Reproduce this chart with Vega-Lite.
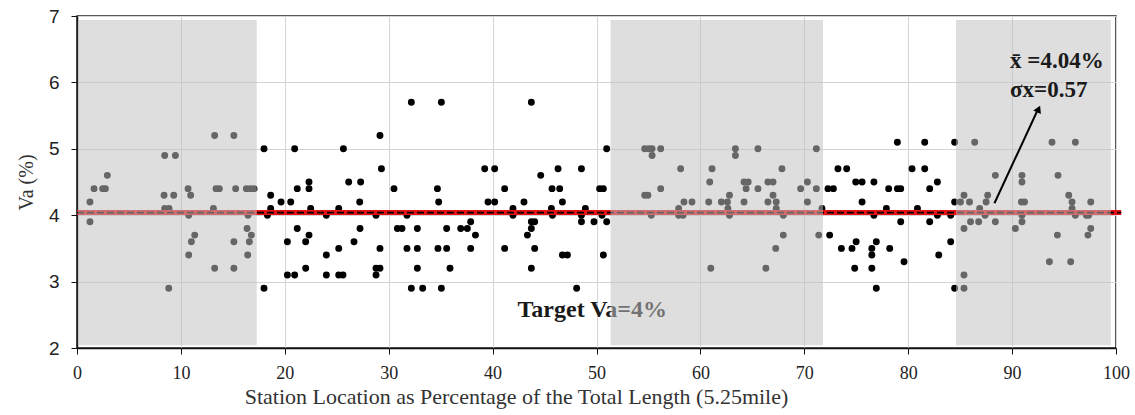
{
  "$schema": "https://vega.github.io/schema/vega-lite/v6.json",
  "width": 1039,
  "height": 332,
  "autosize": "none",
  "padding": {"left": 77, "top": 16, "right": 19, "bottom": 67},
  "background": "white",
  "config": {
    "view": {"stroke": "#222", "strokeWidth": 1.5},
    "axis": {
      "gridColor": "#d4d4d4",
      "gridWidth": 1,
      "domainColor": "#111",
      "domainWidth": 1.5,
      "tickColor": "#111",
      "tickSize": 6,
      "labelFlush": false,
      "labelOverlap": false,
      "titleFontWeight": "normal",
      "titleColor": "#333",
      "labelColor": "#222"
    }
  },
  "datasets": {
    "points": [
      {"station": 1.25, "va": 4.2}, {"station": 1.25, "va": 3.9}, {"station": 1.64, "va": 4.4}, {"station": 2.47, "va": 4.4},
      {"station": 2.73, "va": 4.4}, {"station": 2.92, "va": 4.6}, {"station": 8.38, "va": 4.3}, {"station": 8.44, "va": 4.9},
      {"station": 8.44, "va": 4.1}, {"station": 8.83, "va": 2.9}, {"station": 8.86, "va": 4.1}, {"station": 9.31, "va": 4.3},
      {"station": 9.47, "va": 4.9}, {"station": 10.69, "va": 4.4}, {"station": 10.75, "va": 4.0}, {"station": 10.75, "va": 3.4},
      {"station": 10.94, "va": 4.3}, {"station": 11.01, "va": 3.6}, {"station": 11.33, "va": 3.7}, {"station": 13.13, "va": 4.1},
      {"station": 13.25, "va": 5.2}, {"station": 13.25, "va": 3.2}, {"station": 13.38, "va": 4.4}, {"station": 13.7, "va": 4.4},
      {"station": 15.1, "va": 5.2}, {"station": 15.1, "va": 3.6}, {"station": 15.1, "va": 3.2}, {"station": 15.27, "va": 4.4},
      {"station": 16.3, "va": 4.4}, {"station": 16.37, "va": 3.8}, {"station": 16.43, "va": 3.4}, {"station": 16.46, "va": 4.0},
      {"station": 16.59, "va": 3.6}, {"station": 16.69, "va": 4.4}, {"station": 16.78, "va": 3.7}, {"station": 17.04, "va": 4.4},
      {"station": 18.0, "va": 5.0}, {"station": 18.0, "va": 2.9}, {"station": 18.33, "va": 4.0}, {"station": 18.64, "va": 4.3},
      {"station": 18.64, "va": 4.1}, {"station": 19.64, "va": 4.2}, {"station": 20.25, "va": 3.6}, {"station": 20.25, "va": 3.1},
      {"station": 20.57, "va": 4.2}, {"station": 20.95, "va": 5.0}, {"station": 20.95, "va": 3.1}, {"station": 21.2, "va": 4.4},
      {"station": 21.2, "va": 3.8}, {"station": 22.01, "va": 3.6}, {"station": 22.01, "va": 3.2}, {"station": 22.33, "va": 4.5},
      {"station": 22.33, "va": 4.4}, {"station": 22.33, "va": 3.7}, {"station": 22.49, "va": 4.1}, {"station": 24.0, "va": 4.0},
      {"station": 24.0, "va": 3.4}, {"station": 24.0, "va": 3.1}, {"station": 25.19, "va": 4.1}, {"station": 25.19, "va": 3.5},
      {"station": 25.19, "va": 3.1}, {"station": 25.6, "va": 3.1}, {"station": 25.64, "va": 5.0}, {"station": 26.15, "va": 4.5},
      {"station": 26.66, "va": 3.6}, {"station": 27.21, "va": 4.2}, {"station": 27.24, "va": 3.8}, {"station": 27.3, "va": 4.5},
      {"station": 28.78, "va": 4.0}, {"station": 28.78, "va": 3.2}, {"station": 28.78, "va": 3.1}, {"station": 29.16, "va": 5.2},
      {"station": 29.16, "va": 3.5}, {"station": 29.16, "va": 3.2}, {"station": 29.3, "va": 4.7}, {"station": 30.51, "va": 4.4},
      {"station": 30.84, "va": 3.8}, {"station": 31.28, "va": 3.8}, {"station": 31.76, "va": 4.0}, {"station": 31.76, "va": 3.5},
      {"station": 32.18, "va": 5.7}, {"station": 32.18, "va": 2.9}, {"station": 32.76, "va": 3.8}, {"station": 32.76, "va": 3.5},
      {"station": 32.76, "va": 3.2}, {"station": 33.27, "va": 2.9}, {"station": 34.69, "va": 4.4}, {"station": 34.74, "va": 3.5},
      {"station": 34.81, "va": 4.2}, {"station": 35.07, "va": 5.7}, {"station": 35.07, "va": 2.9}, {"station": 35.58, "va": 3.8},
      {"station": 35.58, "va": 3.5}, {"station": 35.9, "va": 3.2}, {"station": 36.93, "va": 3.8}, {"station": 37.57, "va": 3.8},
      {"station": 37.89, "va": 3.9}, {"station": 37.89, "va": 3.5}, {"station": 38.35, "va": 3.7}, {"station": 39.24, "va": 4.7},
      {"station": 39.56, "va": 4.2}, {"station": 40.2, "va": 4.7}, {"station": 40.2, "va": 4.2}, {"station": 41.16, "va": 4.4},
      {"station": 41.16, "va": 3.5}, {"station": 41.96, "va": 4.1}, {"station": 41.96, "va": 4.0}, {"station": 43.02, "va": 4.2},
      {"station": 43.35, "va": 3.7}, {"station": 43.73, "va": 5.7}, {"station": 43.73, "va": 3.9}, {"station": 43.73, "va": 3.8},
      {"station": 43.73, "va": 3.2}, {"station": 44.05, "va": 3.9}, {"station": 44.05, "va": 3.5}, {"station": 44.63, "va": 4.6},
      {"station": 45.66, "va": 4.1}, {"station": 45.72, "va": 4.4}, {"station": 45.76, "va": 4.0}, {"station": 46.3, "va": 4.7},
      {"station": 46.46, "va": 4.4}, {"station": 46.72, "va": 4.2}, {"station": 46.72, "va": 3.4}, {"station": 47.2, "va": 3.4},
      {"station": 48.09, "va": 2.9}, {"station": 48.55, "va": 4.7}, {"station": 48.55, "va": 4.0}, {"station": 48.55, "va": 3.9},
      {"station": 48.93, "va": 4.1}, {"station": 49.76, "va": 3.9}, {"station": 50.3, "va": 4.4}, {"station": 50.66, "va": 4.4},
      {"station": 50.66, "va": 3.4}, {"station": 50.53, "va": 4.0}, {"station": 50.98, "va": 5.0}, {"station": 50.98, "va": 3.9},
      {"station": 54.64, "va": 5.0}, {"station": 54.64, "va": 4.3}, {"station": 54.95, "va": 4.3}, {"station": 55.03, "va": 5.0},
      {"station": 55.28, "va": 4.0}, {"station": 55.35, "va": 5.0}, {"station": 55.35, "va": 4.9}, {"station": 56.18, "va": 5.0},
      {"station": 56.18, "va": 4.4}, {"station": 57.91, "va": 4.1}, {"station": 57.91, "va": 4.0}, {"station": 58.1, "va": 4.7},
      {"station": 58.33, "va": 4.0}, {"station": 58.42, "va": 4.2}, {"station": 59.19, "va": 4.2}, {"station": 60.8, "va": 4.2},
      {"station": 60.9, "va": 4.5}, {"station": 61.0, "va": 3.2}, {"station": 61.12, "va": 4.7}, {"station": 62.02, "va": 4.2},
      {"station": 62.6, "va": 4.2}, {"station": 62.65, "va": 4.1}, {"station": 62.8, "va": 4.3}, {"station": 62.8, "va": 4.0},
      {"station": 63.37, "va": 5.0}, {"station": 63.37, "va": 4.9}, {"station": 64.2, "va": 4.5}, {"station": 64.2, "va": 4.2},
      {"station": 64.4, "va": 4.4}, {"station": 64.6, "va": 4.5}, {"station": 65.54, "va": 5.0}, {"station": 65.54, "va": 4.4},
      {"station": 66.3, "va": 3.2}, {"station": 66.5, "va": 4.5}, {"station": 66.5, "va": 4.2}, {"station": 66.99, "va": 4.5},
      {"station": 66.99, "va": 4.3}, {"station": 67.25, "va": 3.5}, {"station": 67.3, "va": 4.2}, {"station": 67.3, "va": 4.1},
      {"station": 67.85, "va": 4.7}, {"station": 67.98, "va": 4.0}, {"station": 67.98, "va": 3.7}, {"station": 69.65, "va": 4.4},
      {"station": 70.3, "va": 4.5}, {"station": 70.3, "va": 4.2}, {"station": 71.16, "va": 5.0}, {"station": 71.16, "va": 4.4},
      {"station": 71.39, "va": 3.7}, {"station": 71.7, "va": 4.1}, {"station": 72.28, "va": 4.4}, {"station": 72.44, "va": 3.7},
      {"station": 72.8, "va": 4.4}, {"station": 73.24, "va": 4.7}, {"station": 73.57, "va": 3.5}, {"station": 74.08, "va": 4.7},
      {"station": 74.59, "va": 3.5}, {"station": 74.85, "va": 3.2}, {"station": 74.95, "va": 4.5}, {"station": 74.99, "va": 3.6},
      {"station": 75.56, "va": 4.5}, {"station": 75.56, "va": 4.2}, {"station": 76.5, "va": 3.5}, {"station": 76.5, "va": 3.4},
      {"station": 76.5, "va": 3.2}, {"station": 76.7, "va": 4.5}, {"station": 76.7, "va": 4.0}, {"station": 76.93, "va": 3.6},
      {"station": 76.93, "va": 2.9}, {"station": 77.9, "va": 4.1}, {"station": 78.12, "va": 4.4}, {"station": 78.22, "va": 3.5},
      {"station": 78.96, "va": 5.1}, {"station": 78.96, "va": 4.4}, {"station": 79.28, "va": 4.4}, {"station": 79.28, "va": 3.9},
      {"station": 79.6, "va": 3.3}, {"station": 80.37, "va": 4.7}, {"station": 80.89, "va": 4.1}, {"station": 81.59, "va": 5.1},
      {"station": 81.59, "va": 4.7}, {"station": 82.07, "va": 4.4}, {"station": 82.07, "va": 3.9}, {"station": 82.81, "va": 4.5},
      {"station": 82.81, "va": 4.0}, {"station": 82.94, "va": 3.4}, {"station": 84.09, "va": 4.0}, {"station": 84.09, "va": 3.6},
      {"station": 84.47, "va": 5.1}, {"station": 84.47, "va": 4.2}, {"station": 84.47, "va": 2.9}, {"station": 85.03, "va": 4.2},
      {"station": 85.37, "va": 4.3}, {"station": 85.37, "va": 3.8}, {"station": 85.37, "va": 3.1}, {"station": 85.37, "va": 2.9},
      {"station": 85.9, "va": 4.2}, {"station": 86.0, "va": 3.9}, {"station": 86.4, "va": 5.1}, {"station": 86.78, "va": 3.9},
      {"station": 86.88, "va": 4.1}, {"station": 87.4, "va": 4.0}, {"station": 87.5, "va": 4.2}, {"station": 87.65, "va": 4.3},
      {"station": 88.39, "va": 4.6}, {"station": 88.39, "va": 3.9}, {"station": 90.31, "va": 3.8}, {"station": 90.95, "va": 4.6},
      {"station": 90.95, "va": 4.5}, {"station": 90.95, "va": 4.0}, {"station": 90.95, "va": 3.9}, {"station": 90.9, "va": 4.2},
      {"station": 91.2, "va": 4.2}, {"station": 93.59, "va": 3.3}, {"station": 93.84, "va": 5.1}, {"station": 94.36, "va": 3.7},
      {"station": 94.42, "va": 4.6}, {"station": 95.45, "va": 4.3}, {"station": 95.64, "va": 3.3}, {"station": 95.77, "va": 4.2},
      {"station": 95.77, "va": 4.1}, {"station": 96.09, "va": 5.1}, {"station": 96.09, "va": 4.0}, {"station": 97.15, "va": 4.0},
      {"station": 97.37, "va": 4.0}, {"station": 97.3, "va": 3.7}, {"station": 97.57, "va": 4.2}, {"station": 97.57, "va": 3.8}
    ],
    "bands": [
      {"start": 0.08, "end": 17.3},
      {"start": 51.35, "end": 71.8},
      {"start": 84.6, "end": 99.5}
    ],
    "mean": [
      {"from": 0, "to": 100.5, "va": 4.04}
    ]
  },
  "layer": [
    {
      "data": {"name": "points"},
      "mark": {"type": "circle", "size": 48, "fill": "#000", "opacity": 1},
      "encoding": {
        "x": {
          "field": "station", "type": "quantitative",
          "scale": {"domain": [0, 100], "nice": false, "zero": false},
          "axis": {
            "values": [0, 10, 20, 30, 40, 50, 60, 70, 80, 90, 100],
            "format": "d",
            "title": "Station Location as Percentage  of the Total Length  (5.25mile)",
            "titleFont": "Liberation Serif", "titleFontSize": 22, "titlePadding": 4,
            "titleX": 439, "titleAlign": "center",
            "labelFont": "Liberation Serif", "labelFontSize": 18, "labelPadding": 10
          }
        },
        "y": {
          "field": "va", "type": "quantitative",
          "scale": {"domain": [2, 7], "nice": false, "zero": false},
          "axis": {
            "values": [2, 3, 4, 5, 6, 7],
            "format": "d",
            "title": "Va (%)",
            "titleFont": "Liberation Serif", "titleFontSize": 20, "titlePadding": 12,
            "labelFont": "Liberation Sans", "labelFontSize": 19, "labelPadding": 12
          }
        }
      }
    },
    {
      "data": {"name": "mean"},
      "mark": {"type": "rule", "color": "#ea0f14", "strokeWidth": 5},
      "encoding": {
        "x": {"field": "from", "type": "quantitative"},
        "x2": {"field": "to"},
        "y": {"field": "va", "type": "quantitative"}
      }
    },
    {
      "data": {"name": "mean"},
      "mark": {"type": "rule", "color": "#000", "strokeWidth": 1.8, "strokeDash": [7, 3]},
      "encoding": {
        "x": {"field": "from", "type": "quantitative"},
        "x2": {"field": "to"},
        "y": {"field": "va", "type": "quantitative"}
      }
    },
    {
      "data": {"values": [{}]},
      "mark": {"type": "text", "text": "Target Va=4%", "font": "Liberation Serif", "fontWeight": "bold", "fontSize": 24, "align": "left", "baseline": "alphabetic", "color": "#1a1a1a"},
      "encoding": {
        "x": {"datum": 42.4, "type": "quantitative"},
        "y": {"datum": 2.47, "type": "quantitative"}
      }
    },
    {
      "data": {"name": "bands"},
      "mark": {"type": "rect", "color": "#c0c0c0", "opacity": 0.53},
      "encoding": {
        "x": {"field": "start", "type": "quantitative"},
        "x2": {"field": "end"},
        "y": {"datum": 2.04, "type": "quantitative"},
        "y2": {"datum": 6.94}
      }
    },
    {
      "data": {"values": [{}]},
      "mark": {"type": "text", "text": "x̄ =4.04%", "font": "Liberation Serif", "fontWeight": "bold", "fontSize": 23, "align": "left", "baseline": "alphabetic", "color": "#1a1a1a"},
      "encoding": {
        "x": {"datum": 89.8, "type": "quantitative"},
        "y": {"datum": 6.22, "type": "quantitative"}
      }
    },
    {
      "data": {"values": [{}]},
      "mark": {"type": "text", "text": "σx=0.57", "font": "Liberation Serif", "fontWeight": "bold", "fontSize": 23, "align": "left", "baseline": "alphabetic", "color": "#1a1a1a"},
      "encoding": {
        "x": {"datum": 89.8, "type": "quantitative"},
        "y": {"datum": 5.78, "type": "quantitative"}
      }
    },
    {
      "data": {"values": [{}]},
      "mark": {"type": "rule", "color": "#000", "strokeWidth": 2},
      "encoding": {
        "x": {"datum": 88.3, "type": "quantitative"},
        "y": {"datum": 4.18, "type": "quantitative"},
        "x2": {"datum": 92.45},
        "y2": {"datum": 5.58}
      }
    },
    {
      "data": {"values": [{}]},
      "mark": {"type": "point", "shape": "triangle-up", "filled": true, "color": "#000", "opacity": 1, "size": 70, "angle": 24.6},
      "encoding": {
        "x": {"datum": 92.55, "type": "quantitative"},
        "y": {"datum": 5.6, "type": "quantitative"}
      }
    }
  ]
}
